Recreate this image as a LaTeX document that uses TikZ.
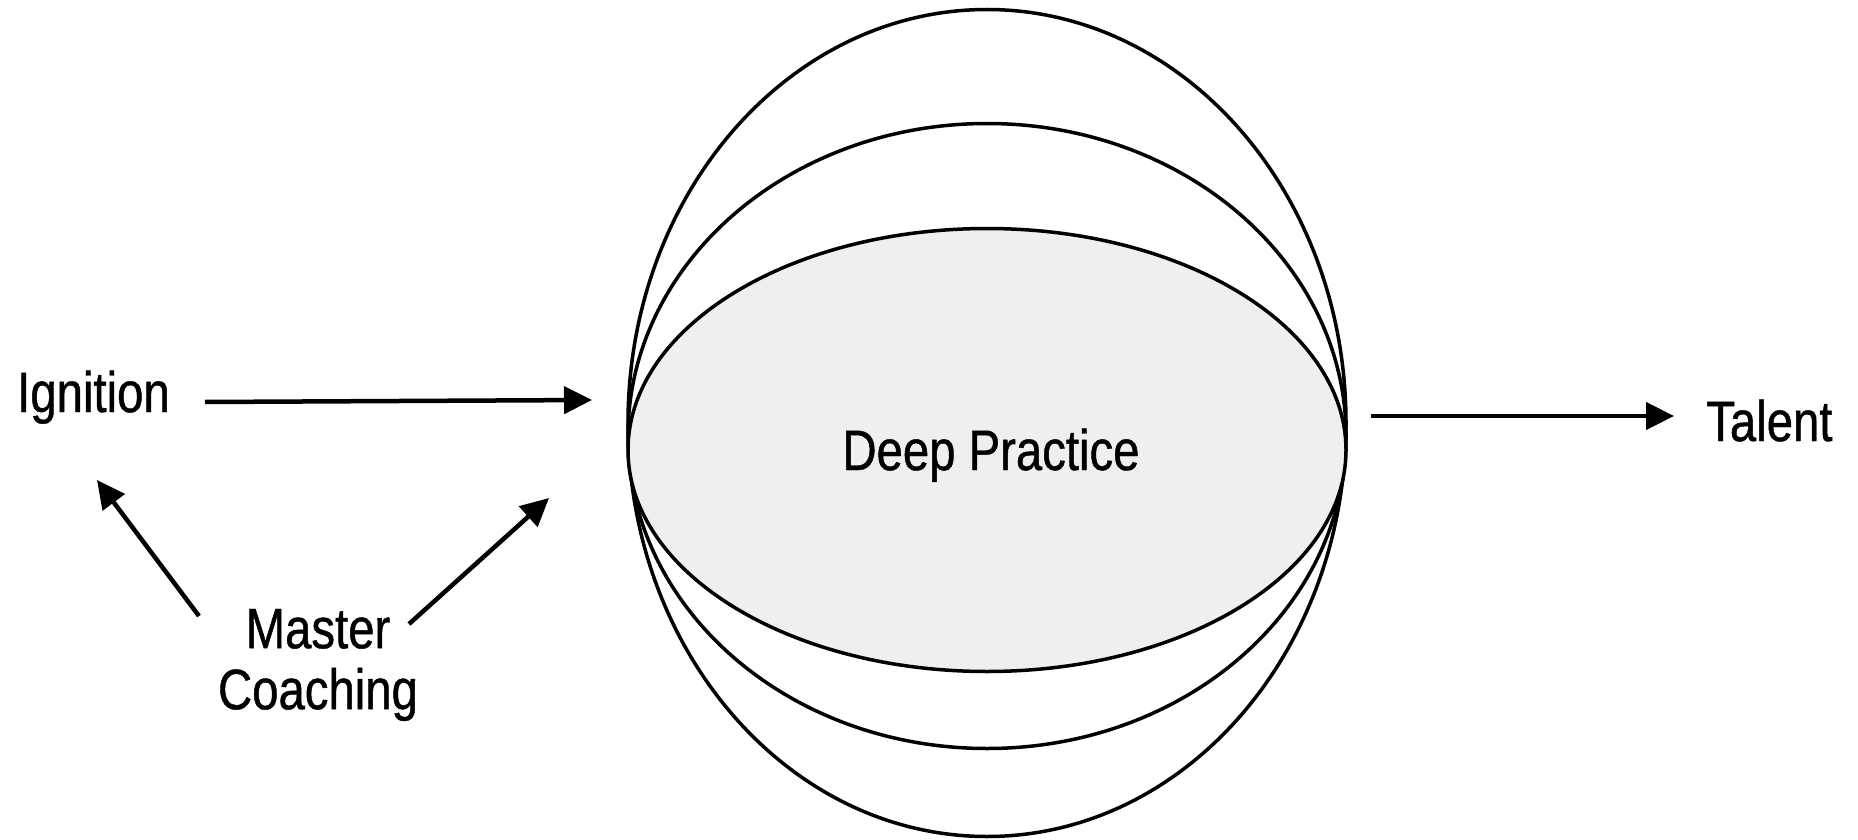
\documentclass[tikz,border=0pt]{standalone}
\usepackage{fontspec}
\setmainfont{Liberation Sans}[FakeStretch=0.83,FakeBold=0.8]
\usetikzlibrary{arrows.meta,shapes.geometric}
\definecolor{innerfill}{RGB}{239,239,239}
\tikzset{
  ring/.style={draw=black, line width=3.5pt, ellipse, inner sep=0pt},
  lbl/.style={inner sep=0pt, font=\fontsize{57}{61}\selectfont},
  arr/.style={line width=4.5pt, -{Triangle[length=28pt,width=27pt]}}
}
\begin{document}
\begin{tikzpicture}[x=1pt,y=-1pt]
\useasboundingbox (0,0) rectangle (1858,840);
\node[ring, minimum width=718pt, minimum height=827pt] (outer) at (987,423) {};
\node[ring, minimum width=718pt, minimum height=625pt] (middle) at (987,436) {};
\node[ring, fill=innerfill, minimum width=718pt, minimum height=443pt] (inner) at (987,450) {};
\node[lbl, anchor=base] (dp) at (991,470) {Deep Practice};
\node[lbl, anchor=base west] (ign) at (17,412) {Ignition};
\node[lbl, anchor=base west] (tal) at (1706,441) {Talent};
\node[lbl, align=center] (mc) at (318,665) {Master\\Coaching};
\coordinate (a1s) at (205,402);
\coordinate (a1e) at (592,400);
\coordinate (a2s) at (199,616);
\coordinate (a2e) at (97,480);
\coordinate (a3s) at (409,624);
\coordinate (a3e) at (549,498);
\coordinate (a4s) at (1371,416);
\coordinate (a4e) at (1674,416);
\draw[arr] (a1s) -- (a1e);
\draw[arr] (a2s) -- (a2e);
\draw[arr] (a3s) -- (a3e);
\draw[arr] (a4s) -- (a4e);
\end{tikzpicture}
\end{document}
